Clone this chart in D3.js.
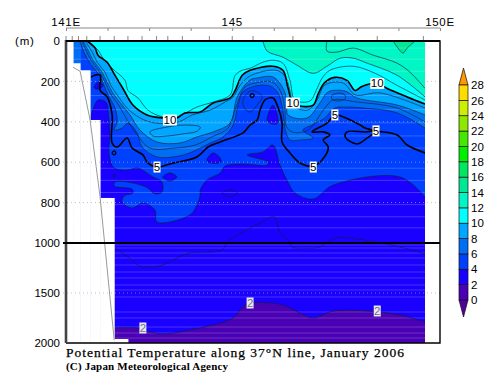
<!DOCTYPE html>
<html><head><meta charset="utf-8">
<script src="https://cdn.jsdelivr.net/npm/d3@7"></script>
<style>html,body{margin:0;padding:0;background:#fff}svg{display:block}text{font-family:"Liberation Sans",sans-serif;fill:#000}</style>
</head><body><div id="c"></div>
<script>
// Isotherms, each point [longitude E, depth m]
const iso14=[[148.87,0],[148.99,35],[149.11,60],[149.21,35],[149.40,0]];
const iso13=[[147.28,0],[147.28,50],[147.52,55],[147.91,35],[148.39,70],[148.97,110],[149.28,155],[149.64,235]];
const iso12=[[145.74,0],[145.84,50],[146.22,80],[146.56,120],[146.95,160],[147.28,125],[147.60,85],[147.91,85],[148.25,110],[148.97,170],[149.64,277]];
const iso11=[[141.53,0],[141.77,45],[141.89,85],[142.11,135],[142.42,195],[142.49,245],[142.73,282],[142.97,342],[143.33,376],[143.67,376],[144.15,327],[144.54,302],[144.95,267],[145.07,170],[145.24,145],[145.43,135],[145.74,105],[145.98,95],[146.22,110],[146.39,195],[146.51,292],[146.87,297],[147.02,245],[147.16,185],[147.35,145],[147.91,125],[148.44,160],[148.97,220],[149.64,292]];
const iso10=[[141.51,0],[141.70,35],[141.77,70],[141.99,105],[142.18,170],[142.37,235],[142.61,317],[142.95,366],[143.33,381],[143.67,381],[143.86,356],[144.23,351],[144.54,307],[144.95,282],[145.07,245],[145.24,170],[145.43,145],[145.98,125],[146.22,145],[146.34,230],[146.46,307],[146.63,322],[146.95,317],[147.07,260],[147.23,205],[147.47,180],[147.76,195],[147.96,245],[148.12,225],[148.49,210],[148.73,235],[149.21,277],[149.64,312]];
const iso9=[[141.46,0],[141.63,55],[141.75,105],[141.94,155],[142.08,220],[142.25,272],[142.47,332],[142.78,381],[143.14,406],[143.70,401],[144.04,366],[144.47,342],[144.83,302],[145.02,277],[145.19,220],[145.43,173],[146.05,145],[146.27,173],[146.39,245],[146.49,322],[146.82,342],[147.04,292],[147.23,218],[147.67,208],[147.96,267],[148.56,257],[149.64,332]];
const iso9Tongue=[[143.02,450],[143.43,426],[143.86,416],[144.23,426],[144.16,446],[143.81,460],[143.45,470],[143.09,470]];
const iso8=[[141.41,0],[141.53,45],[141.65,95],[141.84,145],[141.99,203],[142.11,252],[142.35,317],[142.54,366],[142.78,441],[143.19,500],[143.74,505],[144.15,475],[144.54,450],[144.95,406],[145.12,277],[145.43,193],[145.60,183],[145.98,178],[146.22,233],[146.32,302],[146.34,366],[146.80,381],[147.11,307],[147.31,252],[147.72,248],[148.00,282],[148.97,317],[149.64,366]];
const iso7=[[141.39,0],[141.48,45],[141.60,95],[141.79,148],[141.94,203],[142.06,257],[142.28,322],[142.47,391],[142.66,450],[143.02,530],[143.62,530],[144.11,515],[144.51,475],[144.90,431],[145.09,327],[145.31,228],[145.57,208],[145.96,203],[146.17,252],[146.27,342],[146.29,416],[146.44,450],[146.82,441],[147.23,332],[147.43,292],[148.00,302],[148.97,332],[149.64,401]];
const iso7Ellipse=[[147.40,270],[147.55,258],[147.70,265],[147.72,285],[147.55,297],[147.40,288]];
const iso6=[[141.34,0],[141.43,55],[141.58,110],[141.75,155],[141.89,208],[142.01,267],[142.18,332],[142.23,401],[142.16,441],[142.35,431],[142.49,406],[142.71,455],[142.83,525],[143.19,574],[143.58,574],[143.98,554],[144.47,505],[144.78,475],[145.02,416],[145.14,317],[145.26,252],[145.55,223],[145.91,223],[146.10,257],[146.22,342],[146.27,431],[146.39,490],[146.63,490],[146.95,480],[146.70,441],[146.92,416],[147.23,381],[147.47,332],[147.76,327],[148.15,332],[148.97,356],[149.64,431]];
const warm6Shelf=[[141.17,0],[141.36,0],[141.36,110],[141.17,110]];
const cool6Pocket=[[145.26,292],[145.43,248],[145.60,252],[145.72,277],[145.60,317],[145.43,351],[145.29,332]];
const iso5=[[141.60,178],[141.82,168],[141.82,243],[141.99,277],[142.11,366],[142.11,505],[142.23,525],[142.47,480],[142.59,530],[142.85,564],[142.97,604],[143.19,624],[143.58,604],[144.15,574],[144.42,525],[144.71,500],[145.26,455],[145.43,416],[145.60,391],[145.67,342],[145.79,292],[145.98,282],[146.10,327],[146.20,406],[146.20,500],[146.39,554],[146.63,604],[146.95,619],[147.16,589],[147.31,525],[147.19,490],[147.35,465],[147.19,450],[146.92,450],[147.28,406],[147.47,366],[147.67,376],[148.08,416],[148.20,431],[148.46,445],[148.97,465],[149.21,515],[149.64,554]];
const iso5Loop=[[148.46,445],[148.20,450],[147.76,450],[147.72,475],[148.00,510],[148.25,480]];
const iso5Rings=[[[145.43,270],[145.48,260],[145.53,270],[145.48,280]],[[142.11,554],[142.16,544],[142.20,554],[142.16,564]]];
const iso4=[[141.58,391],[141.67,327],[141.77,292],[141.96,302],[142.03,381],[142.06,465],[142.03,540],[142.08,599],[142.16,629],[142.47,639],[142.73,629],[143.09,673],[143.31,698],[143.31,747],[143.14,757],[142.97,728],[142.61,703],[142.18,698],[142.16,718],[142.59,733],[142.61,752],[142.40,767],[142.35,797],[142.59,827],[142.85,802],[143.14,837],[143.19,896],[143.98,861],[144.15,812],[144.23,762],[144.23,738],[144.39,688],[144.71,653],[144.83,619],[145.26,609],[145.84,614],[145.86,599],[145.36,564],[145.74,549],[145.98,515],[146.15,614],[146.34,698],[146.51,752],[146.95,782],[147.43,713],[149.04,673],[149.64,772]];
const iso4Pockets=[
 [[145.86,366],[145.98,317],[146.10,406],[145.96,411],[145.84,396]],
 [[141.67,228],[141.79,203],[141.89,218],[141.84,233],[141.72,238]],
 [[144.39,589],[144.54,554],[144.71,579],[144.73,599],[144.47,604]],
 [[143.33,673],[143.50,653],[143.67,673],[143.50,693]],
 [[144.75,752],[144.95,738],[145.12,752],[144.95,772]],
 [[142.13,668],[142.16,658],[142.18,668],[142.16,678]]];
const iso3=[[142.18,1050],[142.49,1140],[142.78,1230],[143.02,1240],[143.33,1220],[143.67,1150],[143.98,1100],[144.75,1070],[144.88,995],[145.02,975],[145.43,926],[145.67,901],[146.01,871],[146.15,950],[146.39,995],[146.44,1040],[146.70,1050],[147.11,1040],[147.47,975],[148.44,995],[149.04,1040],[149.64,1110]];
const iso2=[[142.16,1850],[142.71,1850],[142.85,1870],[143.33,1910],[143.98,1870],[144.54,1820],[145.02,1750],[145.26,1640],[145.43,1600],[145.91,1600],[146.22,1620],[146.63,1700],[146.95,1750],[147.43,1680],[148.25,1680],[149.04,1720],[149.64,1790]];
// Cells without data: [lon from, lon to, depth where the seabed starts]
const seabedSteps=[[141,141.17,0],[141.17,141.34,110],[141.34,141.58,145],[141.58,141.82,391],[141.82,142.16,777],[142.16,142.49,1960]];
const bottomLine=[[141.17,130],[141.34,150],[141.58,391],[141.82,772],[142.16,1970]];
const contourLabels=[["10",143.50,391],["10",146.46,307],["10",148.49,210],["5",143.19,624],["5",146.95,624],["5",147.47,366],["5",148.46,445],["2",142.85,1850],["2",145.43,1600],["2",148.49,1680]];
const dataEnd=149.64;
const depthTicks=[0,200,400,600,800,1000,1500,2000];
const dottedDepths=[200,400,600,800,1500];
const lonMajor=[141,142,143,144,145,146,147,148,149,150];
const lonLabels={141:"141E",145:"145",150:"150E"};
const stations=[141,141.15,141.3,141.5,141.82,142.16,142.49,142.83,143.18,143.45,143.8,144.45,145,145.5,146.46,147.47,148.49,149.6];
const sampleDepths=[35,90,150,270,340,405,470,530,630,690,750,810,870,925,1020,1050,1100,1150,1220,1290,1350,1420,1470,1540,1690,1750,1840,1900,1950];
const barLevels=[0,2,4,6,8,10,12,14,16,18,20,22,24,26,28];
const barColors=["#4a00b4","#1a00ff","#0040ff","#006ef2","#00a6ff","#00ffff","#00f6c4","#00e896","#00e862","#00f000","#44e800","#8ee800","#cdee00","#ffdc00"];
const colorBelow="#52009a", colorAbove="#ff9800";
const colorOf=t=>barColors[barLevels.indexOf(t)];

const W=500,H=387;
const svg=d3.select("#c").append("svg").attr("width",W).attr("height",H);
const x=d3.scaleLinear().domain([141,150]).range([66,440]);
const y=d3.scaleLinear().domain([0,1000,2000]).range([41,243,343]);
const line=d3.line().x(d=>x(d[0])).y(d=>y(d[1])).curve(d3.curveCatmullRom.alpha(0.5));
const loop=d3.line().x(d=>x(d[0])).y(d=>y(d[1])).curve(d3.curveCatmullRomClosed.alpha(0.5));
const sharp=d3.line().x(d=>x(d[0])).y(d=>y(d[1]));

svg.append("clipPath").attr("id","clip").append("rect").attr("x",x(141)).attr("y",y(0)).attr("width",x(dataEnd)-x(141)).attr("height",y(2000)-y(0));
const plot=svg.append("g").attr("clip-path","url(#clip)");

// close an isotherm along the surface (warm side) or the bottom (cold side)
function closedFill(pts,color,edgeDepth){
  const a=pts[0],b=pts[pts.length-1];
  const close=[[dataEnd,b[1]],[dataEnd,edgeDepth],[141,edgeDepth],[141,a[1]],[a[0],a[1]]].map(p=>"L"+x(p[0])+","+y(p[1])).join("");
  plot.append("path").attr("d",line(pts)+close+"Z").attr("fill",color);
}
plot.append("rect").attr("x",x(141)).attr("y",y(0)).attr("width",x(dataEnd)-x(141)).attr("height",y(2000)-y(0)).attr("fill",colorOf(2));
closedFill(iso2,colorOf(0),2000);
closedFill(iso4,colorOf(4),0);
iso4Pockets.forEach(p=>plot.append("path").attr("d",loop(p)).attr("fill",colorOf(2)));
closedFill(iso6,colorOf(6),0);
plot.append("path").attr("d",sharp(warm6Shelf)+"Z").attr("fill",colorOf(6));
plot.append("path").attr("d",loop(cool6Pocket)).attr("fill",colorOf(4));
closedFill(iso8,colorOf(8),0);
plot.append("path").attr("d",loop(iso7Ellipse)).attr("fill",colorOf(6));
closedFill(iso10,colorOf(10),0);
closedFill(iso12,colorOf(12),0);
plot.append("path").attr("d",line(iso14)+"Z").attr("fill",colorOf(14));
// faint horizontal sampling lines
plot.selectAll("line.s").data(sampleDepths).join("line").attr("class","s")
  .attr("x1",x(141)).attr("x2",x(dataEnd)).attr("y1",d=>y(d)).attr("y2",d=>y(d))
  .attr("stroke","#fff").attr("stroke-opacity",0.2).attr("stroke-width",1);
// contours
const thin=[iso14,iso13,iso12,iso11,iso9,iso8,iso7,iso6,iso4,iso3,iso2];
const ink="#0a2040";
thin.forEach(p=>plot.append("path").attr("d",line(p)).attr("fill","none").attr("stroke",ink).attr("stroke-opacity",.8).attr("stroke-width",.8));
[iso9Tongue,iso7Ellipse,cool6Pocket].concat(iso4Pockets).forEach(p=>plot.append("path").attr("d",loop(p)).attr("fill","none").attr("stroke",ink).attr("stroke-opacity",.8).attr("stroke-width",.8));
[iso10,iso5].forEach(p=>plot.append("path").attr("d",line(p)).attr("fill","none").attr("stroke","#000").attr("stroke-width",1.6));
plot.append("path").attr("d",loop(iso5Loop)).attr("fill","none").attr("stroke","#000").attr("stroke-width",1.5);
iso5Rings.forEach(p=>plot.append("path").attr("d",loop(p)).attr("fill","none").attr("stroke","#000").attr("stroke-width",1.2));
// seabed
plot.selectAll("rect.bed").data(seabedSteps).join("rect").attr("class","bed")
  .attr("x",d=>x(d[0])).attr("width",d=>x(d[1])-x(d[0])+.5).attr("y",d=>y(d[2])).attr("height",d=>y(2000)-y(d[2])).attr("fill","#fff");
svg.append("path").attr("d",sharp(bottomLine)).attr("fill","none").attr("stroke","#999").attr("stroke-width",1);
// dotted depth guides
svg.selectAll("line.g").data(dottedDepths).join("line").attr("class","g")
  .attr("x1",63).attr("x2",x(150)).attr("y1",d=>y(d)).attr("y2",d=>y(d))
  .attr("stroke","#aaa").attr("stroke-opacity",.7).attr("stroke-dasharray","1 3");
// labels on contours
const lab=svg.selectAll("g.l").data(contourLabels).join("g").attr("class","l").attr("transform",d=>`translate(${x(d[1])},${y(d[2])})`);
lab.append("rect").attr("x",d=>d[0].length>1?-7:-3.5).attr("width",d=>d[0].length>1?14:7).attr("y",-5.5).attr("height",11)
  .attr("fill",d=>d[0]==="2"?"#e8e6f4":"#fff");
lab.append("text").attr("text-anchor","middle").attr("y",4).attr("font-size",11.5).attr("fill-opacity",d=>d[0]==="2"?.55:1).text(d=>d[0]);
// frame
svg.append("path").attr("d",`M${x(141)},${y(0)}H${x(150)}V${y(2000)}H${x(141)}`).attr("fill","none").attr("stroke","#000").attr("stroke-width",1.4);
svg.append("line").attr("x1",x(141)).attr("x2",x(141)).attr("y1",y(0)-1).attr("y2",y(2000)).attr("stroke","#444").attr("stroke-width",2.6);
svg.append("line").attr("x1",x(141)).attr("x2",x(150)).attr("y1",y(0)).attr("y2",y(0)).attr("stroke","#000").attr("stroke-width",2);
svg.append("line").attr("x1",63).attr("x2",x(150)).attr("y1",y(1000)).attr("y2",y(1000)).attr("stroke","#000").attr("stroke-width",2);
// top axis
const topAxis=d3.axisBottom(x).tickValues(lonMajor).tickSize(3).tickPadding(0).tickFormat("");
const gt=svg.append("g").attr("transform","translate(0,28)").call(topAxis);
gt.selectAll("path,line").attr("stroke","#888").attr("stroke-width",1);
gt.select("path").attr("d",`M${x(141)},0H${x(150)}`);
svg.selectAll("line.st").data(stations).join("line").attr("class","st").attr("x1",d=>x(d)).attr("x2",d=>x(d)).attr("y1",36).attr("y2",40).attr("stroke","#888");
svg.selectAll("text.lon").data(Object.keys(lonLabels)).join("text").attr("class","lon").attr("x",d=>x(+d)).attr("y",26)
  .attr("text-anchor","middle").attr("font-size",11.5).attr("letter-spacing",.7).attr("fill","#222").text(d=>lonLabels[d]);
// depth axis
const gy=svg.append("g").attr("transform","translate(63,0)").call(d3.axisLeft(y).tickValues(depthTicks).tickSize(0).tickPadding(3).tickFormat(d3.format("d")));
gy.select("path").remove();
gy.selectAll("text").attr("font-size",11.5).attr("font-family","Liberation Sans").attr("fill","#000");
svg.append("text").attr("x",15).attr("y",45).attr("font-size",11.5).attr("letter-spacing",.8).attr("fill","#222").text("(m)");
// titles
svg.append("text").attr("x",66).attr("y",357).style("font-family","Liberation Serif").attr("font-size",13.5).attr("stroke","#000").attr("stroke-width",.25).attr("textLength",338).attr("lengthAdjust","spacing").text("Potential Temperature along 37°N line, January 2006");
svg.append("text").attr("x",66).attr("y",370).style("font-family","Liberation Serif").attr("font-size",11).attr("font-weight","bold").attr("textLength",162).attr("lengthAdjust","spacing").text("(C) Japan Meteorological Agency");
// colour bar
const barY=d3.scaleLinear().domain([0,28]).range([300,85]);
const bar=svg.append("g");
bar.append("path").attr("d",`M459,${barY(0)}H468L463.5,317Z`).attr("fill",colorBelow).attr("stroke","#111").attr("stroke-width",.7);
bar.append("path").attr("d",`M459,${barY(28)}H468L463.5,68Z`).attr("fill",colorAbove).attr("stroke","#111").attr("stroke-width",.7);
bar.selectAll("rect").data(barColors).join("rect").attr("x",459).attr("width",9)
  .attr("y",(d,i)=>barY(barLevels[i+1])).attr("height",(d,i)=>barY(barLevels[i])-barY(barLevels[i+1])).attr("fill",d=>d).attr("stroke","#111").attr("stroke-width",.7);
svg.append("g").attr("transform","translate(468,0)").call(d3.axisRight(barY).tickValues(barLevels).tickSize(0).tickPadding(3).tickFormat(d3.format("d")))
  .call(g=>g.select("path").remove()).selectAll("text").attr("font-size",11.5).attr("font-family","Liberation Sans").attr("fill","#000");
</script></body></html>
